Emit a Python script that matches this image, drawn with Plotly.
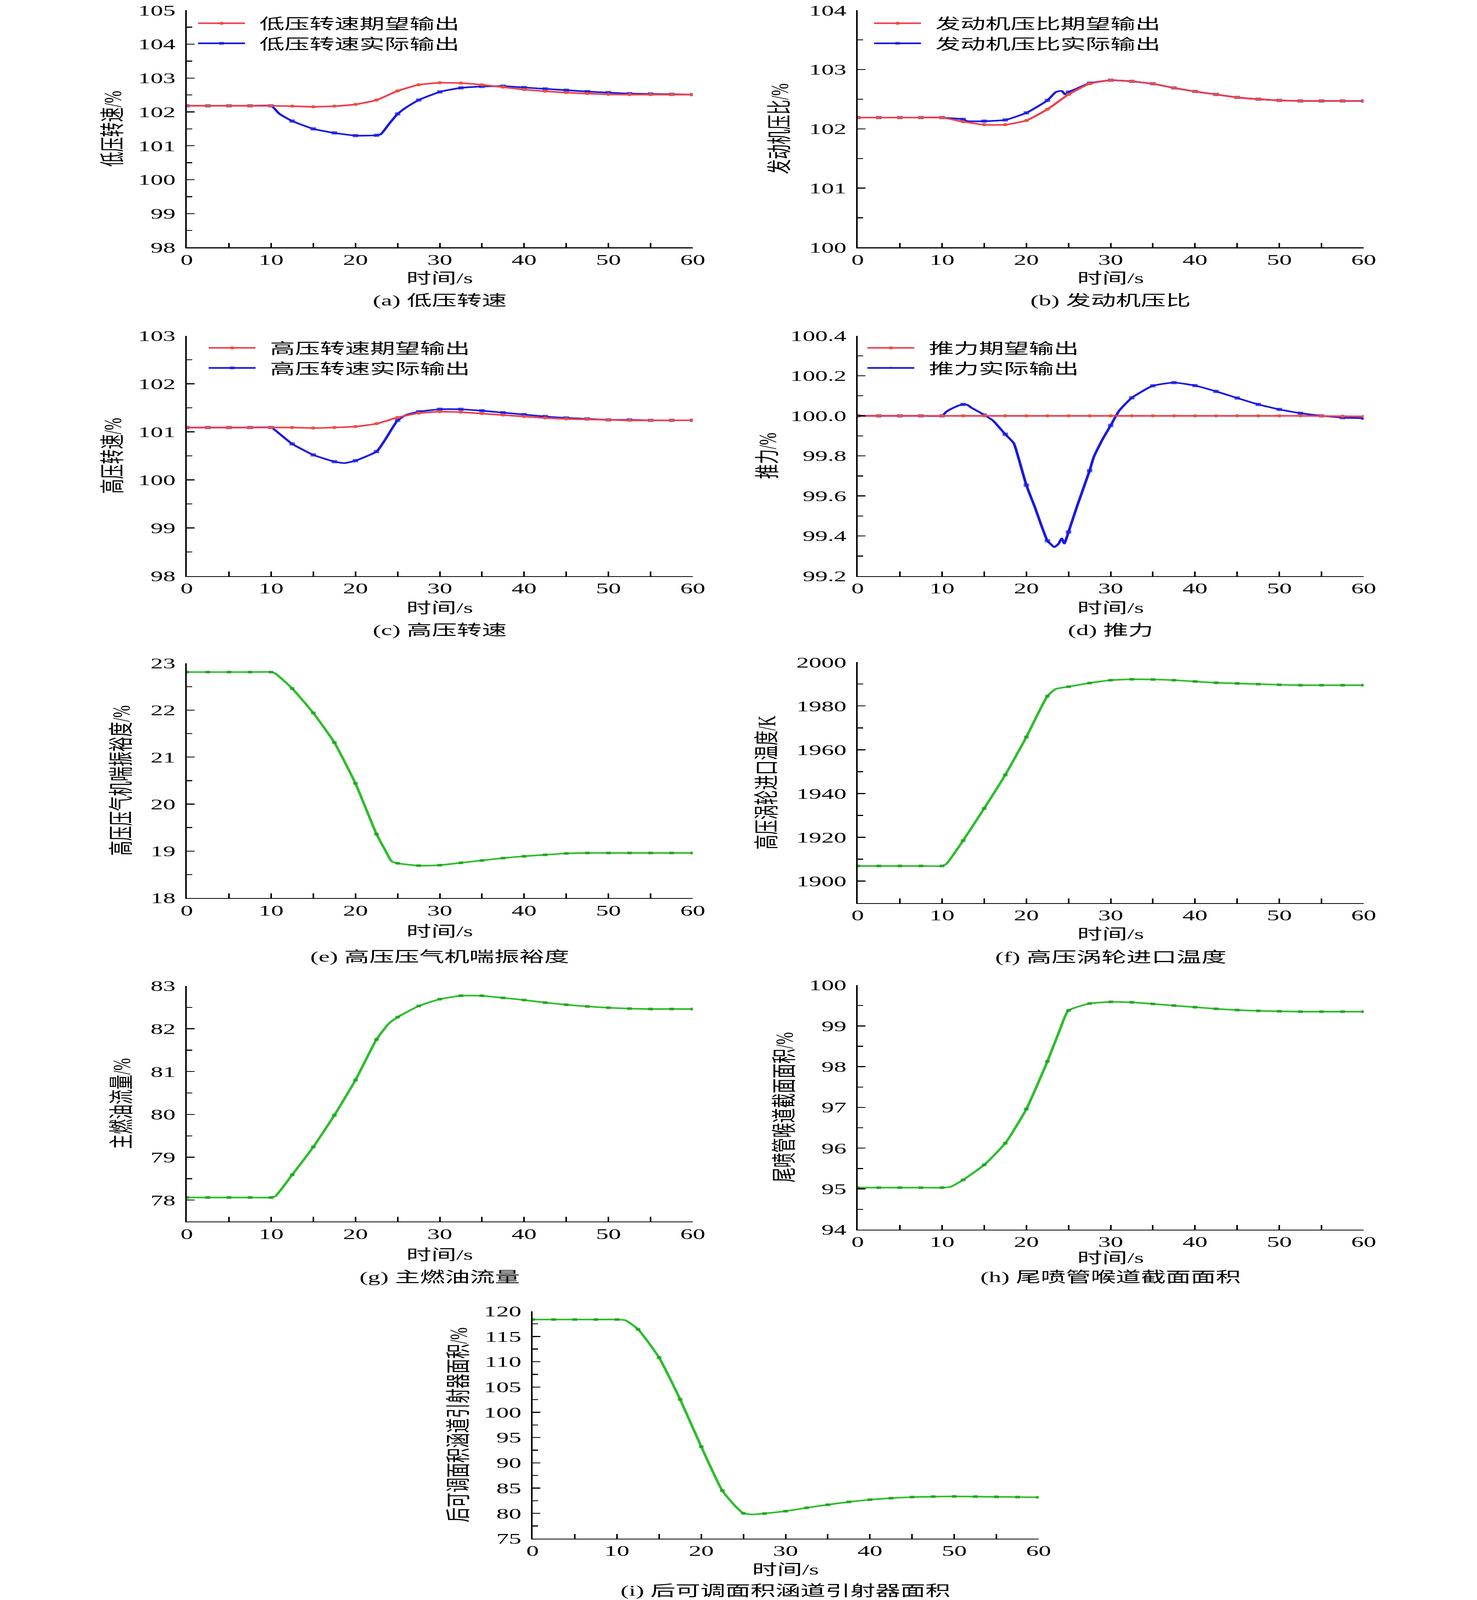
import plotly.graph_objects as go

# ---------------- data ----------------
T25 = [0, 2.5, 5, 7.5, 10, 12.5, 15, 17.5, 20, 22.5, 25, 27.5, 30, 32.5, 35, 37.5, 40, 42.5, 45, 47.5, 50, 52.5, 55, 57.5, 60]

# (a) low-pressure spool speed
a_des = [102.18, 102.18, 102.18, 102.18, 102.18, 102.17, 102.15, 102.17, 102.22, 102.35, 102.62, 102.80, 102.86,
         102.85, 102.80, 102.73, 102.66, 102.61, 102.57, 102.54, 102.52, 102.51, 102.51, 102.51, 102.51]
a_act_t = [0, 2.5, 5, 7.5, 10, 11, 12.5, 15, 17.5, 20, 22.5, 23, 24, 25, 26, 27.5, 30, 32.5, 35, 37.5, 40, 42.5, 45,
           47.5, 50, 52.5, 55, 57.5, 60]
a_act = [102.18, 102.18, 102.18, 102.18, 102.18, 101.94, 101.73, 101.50, 101.38, 101.30, 101.31, 101.34, 101.65,
         101.94, 102.13, 102.35, 102.59, 102.71, 102.75, 102.76, 102.72, 102.68, 102.64, 102.60, 102.57, 102.54,
         102.53, 102.52, 102.51]

# (b) engine pressure ratio
b_des = [102.19, 102.19, 102.19, 102.19, 102.19, 102.12, 102.07, 102.07, 102.14, 102.33, 102.58, 102.76, 102.82,
         102.80, 102.76, 102.69, 102.63, 102.58, 102.53, 102.50, 102.48, 102.47, 102.47, 102.47, 102.47]
b_act_t = [0, 2.5, 5, 7.5, 10, 12.5, 13, 15, 17.5, 20, 22.5, 23.5, 24.2, 24.6, 25, 26, 27.5, 30, 32.5, 35, 37.5, 40,
           42.5, 45, 47.5, 50, 52.5, 55, 57.5, 60]
b_act = [102.19, 102.19, 102.19, 102.19, 102.19, 102.16, 102.13, 102.13, 102.15, 102.27, 102.48, 102.62, 102.64,
         102.58, 102.62, 102.68, 102.77, 102.82, 102.80, 102.76, 102.69, 102.63, 102.58, 102.53, 102.50, 102.48,
         102.47, 102.47, 102.47, 102.47]

# (c) high-pressure spool speed
c_des = [101.09, 101.09, 101.09, 101.09, 101.09, 101.09, 101.08, 101.09, 101.11, 101.17, 101.30, 101.39, 101.42,
         101.41, 101.38, 101.35, 101.32, 101.29, 101.27, 101.26, 101.25, 101.24, 101.24, 101.24, 101.24]
c_act_t = [0, 2.5, 5, 7.5, 10, 11, 12.5, 15, 17.5, 18.7, 20, 22.5, 23.5, 25, 26, 27.5, 30, 32.5, 35, 37.5, 40, 42.5,
           45, 47.5, 50, 52.5, 55, 57.5, 60]
c_act = [101.09, 101.09, 101.09, 101.09, 101.09, 100.96, 100.75, 100.52, 100.38, 100.35, 100.40, 100.59, 100.83,
         101.24, 101.35, 101.42, 101.47, 101.47, 101.44, 101.40, 101.36, 101.32, 101.29, 101.27, 101.25, 101.25,
         101.24, 101.24, 101.24]

# (d) thrust
d_des = [100.0, 100.0, 100.0, 100.0, 100.0, 100.0, 100.0, 100.0, 100.0, 100.0, 100.0, 100.0, 100.0, 100.0, 100.0,
         100.0, 100.0, 100.0, 100.0, 100.0, 100.0, 100.0, 99.999, 99.998, 99.997]
d_act_t = [0, 2.5, 5, 7.5, 10, 10.5, 11, 12, 12.5, 13, 13.5, 14.5, 15, 16, 17.5, 18.5, 19, 20, 21, 22.5, 23, 23.3,
           23.8, 24.2, 24.5, 25, 26, 27.5, 28, 29, 30, 31, 32.5, 35, 37.5, 40, 42.5, 45, 47.5, 50, 52.5, 55, 57.5, 60]
d_act = [100.0, 100.0, 100.0, 100.0, 100.0, 100.02, 100.033, 100.052, 100.057, 100.055, 100.04, 100.017, 100.004,
         99.978, 99.908, 99.864, 99.80, 99.654, 99.545, 99.376, 99.355, 99.344, 99.36, 99.388, 99.362, 99.42,
         99.547, 99.726, 99.795, 99.88, 99.952, 100.025, 100.09, 100.15, 100.166, 100.151, 100.122, 100.089,
         100.057, 100.032, 100.013, 100.0, 99.991, 99.988]

# (e) HP compressor surge margin
e_t = [0, 2.5, 5, 7.5, 10, 10.5, 12.5, 15, 17.5, 20, 22.5, 23.5, 24.3, 25, 27.5, 30, 32.5, 35, 37.5, 40, 42.5, 45,
       47.5, 50, 52.5, 55, 57.5, 60]
e_val = [22.81, 22.81, 22.81, 22.81, 22.81, 22.78, 22.46, 21.94, 21.31, 20.44, 19.36, 19.03, 18.78, 18.74, 18.69,
         18.70, 18.75, 18.80, 18.85, 18.89, 18.92, 18.95, 18.96, 18.96, 18.96, 18.96, 18.96, 18.96]

# (f) HP turbine inlet temperature
f_t = [0, 2.5, 5, 7.5, 10, 10.5, 12.5, 15, 17.5, 20, 22.5, 23.5, 25, 27.5, 30, 32.5, 35, 37.5, 40, 42.5, 45, 47.5,
       50, 52.5, 55, 57.5, 60]
f_val = [1906.9, 1906.9, 1906.9, 1906.9, 1906.9, 1907.8, 1918.5, 1933.2, 1948.5, 1965.8, 1984.5, 1987.8, 1988.8,
         1990.5, 1991.8, 1992.2, 1992.1, 1991.8, 1991.2, 1990.6, 1990.3, 1990.0, 1989.7, 1989.5, 1989.5, 1989.5,
         1989.5]

# (g) main fuel flow
g_t = [0, 2.5, 5, 7.5, 10, 10.5, 12.5, 15, 17.5, 20, 22.5, 24, 25, 27.5, 30, 32.5, 35, 37.5, 40, 42.5, 45, 47.5,
       50, 52.5, 55, 57.5, 60]
g_val = [78.06, 78.06, 78.06, 78.06, 78.06, 78.09, 78.59, 79.24, 79.98, 80.80, 81.75, 82.13, 82.27, 82.53, 82.69,
         82.77, 82.77, 82.72, 82.67, 82.61, 82.56, 82.52, 82.49, 82.47, 82.46, 82.46, 82.46]

# (h) nozzle throat area
h_t = [0, 2.5, 5, 7.5, 10, 11, 12.5, 15, 17.5, 20, 22.5, 24, 25, 27.5, 30, 32.5, 35, 37.5, 40, 42.5, 45, 47.5, 50,
       52.5, 55, 57.5, 60]
h_val = [95.03, 95.03, 95.03, 95.03, 95.03, 95.05, 95.22, 95.59, 96.12, 96.96, 98.13, 98.92, 99.38, 99.55, 99.59,
         99.58, 99.54, 99.50, 99.46, 99.42, 99.39, 99.37, 99.36, 99.35, 99.35, 99.35, 99.35]

# (i) rear variable area bypass injector area
i_t = [0, 2.5, 5, 7.5, 10, 11, 12.5, 15, 17.5, 20, 22.5, 24, 25, 26, 27.5, 30, 32.5, 35, 37.5, 40, 42.5, 45, 47.5,
       50, 52.5, 55, 57.5, 60]
i_val = [118.35, 118.35, 118.35, 118.35, 118.35, 118.2, 116.43, 110.82, 102.55, 93.19, 84.49, 81.5, 80.01, 79.8,
         79.97, 80.44, 81.10, 81.71, 82.27, 82.71, 83.01, 83.23, 83.32, 83.36, 83.32, 83.27, 83.23, 83.19]

y_titles = ["低压转速/%", "发动机压比/%", "高压转速/%", "推力/%", "高压压气机喘振裕度/%",
            "高压涡轮进口温度/K", "主燃油流量/%", "尾喷管喉道截面面积/%", "后可调面积涵道引射器面积/%"]
captions = ["(a) 低压转速", "(b) 发动机压比", "(c) 高压转速", "(d) 推力", "(e) 高压压气机喘振裕度",
            "(f) 高压涡轮进口温度", "(g) 主燃油流量", "(h) 尾喷管喉道截面面积", "(i) 后可调面积涵道引射器面积"]
legend_names = [("低压转速期望输出", "低压转速实际输出"), ("发动机压比期望输出", "发动机压比实际输出"),
                ("高压转速期望输出", "高压转速实际输出"), ("推力期望输出", "推力实际输出")]
x_title = "时间/s"

# ---------------- style / layout ----------------
W, H = 3780, 6886
FONT = "Liberation Serif, Times New Roman, Noto Sans CJK SC"
FS = 64
RED_LINE = "#EE3E4E"
RED_MK = "#F0503A"
BLUE = "#1818E6"
GREEN = "#2DBE2D"
GREEN_MK = "#139A13"
GAP = "\u00a0\u00a0"


def px_x(v):
    return v / W


def px_y(v):
    return 1 - v / H


# panel boxes in pixels: (left, right, top, bottom)
boxes = [
    (478, 1773, 44, 1065), (2195, 3490, 44, 1065),
    (478, 1773, 1445, 2479), (2195, 3490, 1445, 2479),
    (478, 1773, 2854, 3865), (2195, 3490, 2850, 3886),
    (478, 1773, 4243, 5257), (2195, 3490, 4240, 5292),
    (1363, 2658, 5643, 6622),
]
yranges = [(98, 105), (100, 104), (98, 103), (99.2, 100.4), (18, 23), (1890, 2000), (77.5, 83), (94, 100), (75, 120)]
ydticks = [1, 1, 1, 0.2, 1, 20, 1, 1, 5]
yminor = [0.5, 0.5, 0.5, 0.1, 0.5, 10, 0.5, 0.5, 2.5]
ytick0 = [98, 100, 98, 99.2, 18, 1900, 78, 94, 75]
ytickfmt = ["d", "d", "d", ".1f", "d", "d", "d", "d", "d"]
ytitle_x = [289, 1996, 289, 1965, 311, 1962, 311, 2007, 1174]
xtitle_y = [1197, 1197, 2616, 2616, 4008, 4020, 5400, 5414, 6755]
caption_y = [1293, 1293, 2712, 2712, 4117, 4119, 5495, 5495, 6845]
legend_pos = [(502, 52), (2232, 52), (529, 1449), (2215, 1449)]

fig = go.Figure()
layout = dict(
    width=W, height=H, margin=dict(l=0, r=0, t=0, b=0, autoexpand=False),
    paper_bgcolor="white", plot_bgcolor="white",
    font=dict(family=FONT, size=FS, color="black"),
    showlegend=True,
)
annotations = []

LW_AX = 4
for k, (l, r, t, b) in enumerate(boxes):
    n = "" if k == 0 else str(k + 1)
    layout["xaxis" + n] = dict(
        domain=[px_x(l), px_x(r)], anchor="y" + n, range=[0, 60], dtick=10, tick0=0, automargin=False,
        showline=True, linecolor="black", linewidth=LW_AX, showgrid=False, zeroline=False,
        ticks="inside", ticklen=20, tickwidth=LW_AX, tickcolor="black", ticklabeloverflow="allow",
        minor=dict(dtick=5, tick0=0, ticks="inside", ticklen=20, tickwidth=LW_AX, tickcolor="black",
                   showgrid=False),
        tickfont=dict(family=FONT, size=FS), ticklabelstandoff=-6,
    )
    layout["yaxis" + n] = dict(
        domain=[px_y(b), px_y(t)], anchor="x" + n, range=list(yranges[k]), dtick=ydticks[k], tick0=ytick0[k],
        tickformat=ytickfmt[k], automargin=False, ticklabeloverflow="allow",
        showline=True, linecolor="black", linewidth=LW_AX, showgrid=False, zeroline=False,
        ticks="inside", ticklen=20, tickwidth=LW_AX, tickcolor="black",
        minor=dict(dtick=yminor[k], tick0=ytick0[k], ticks="inside", ticklen=14, tickwidth=LW_AX,
                   tickcolor="black", showgrid=False),
        tickfont=dict(family=FONT, size=FS), ticklabelstandoff=12,
    )
    cx = (l + r) / 2
    annotations.append(dict(text=y_titles[k], x=px_x(ytitle_x[k]), y=px_y((t + b) / 2), xref="paper",
                            yref="paper", showarrow=False, textangle=-90, xanchor="center", yanchor="middle",
                            font=dict(family=FONT, size=FS)))
    annotations.append(dict(text=x_title, x=px_x(cx), y=px_y(xtitle_y[k]), xref="paper", yref="paper",
                            showarrow=False, xanchor="center", yanchor="middle", font=dict(family=FONT, size=FS)))
    annotations.append(dict(text=captions[k], x=px_x(cx), y=px_y(caption_y[k]), xref="paper", yref="paper",
                            showarrow=False, xanchor="center", yanchor="middle", font=dict(family=FONT, size=FS)))


def marker_sizes(ts, size):
    return [size if abs(t / 2.5 - round(t / 2.5)) < 1e-6 else 0 for t in ts]


pairs = [(a_act_t, a_act, a_des), (b_act_t, b_act, b_des), (c_act_t, c_act, c_des), (d_act_t, d_act, d_des)]
for k, (tt, act, des) in enumerate(pairs):
    n = "" if k == 0 else str(k + 1)
    lg = "legend" + n
    fig.add_trace(go.Scatter(
        x=tt, y=act, mode="lines+markers", name=GAP + legend_names[k][1], legend=lg,
        xaxis="x" + n, yaxis="y" + n, line=dict(color=BLUE, width=7, shape="spline", smoothing=0.5),
        marker=dict(symbol="square", color=BLUE, size=marker_sizes(tt, 14), line=dict(width=0)),
    ))
    fig.add_trace(go.Scatter(
        x=T25, y=des, mode="lines+markers", name=GAP + legend_names[k][0], legend=lg,
        xaxis="x" + n, yaxis="y" + n, line=dict(color=RED_LINE, width=7, shape="spline", smoothing=0.5),
        marker=dict(symbol="circle", color=RED_MK, size=13, line=dict(width=0)),
    ))
    lx, ly = legend_pos[k]
    layout[lg] = dict(x=px_x(lx), y=px_y(ly), xanchor="left", yanchor="top", bgcolor="rgba(0,0,0,0)",
                      borderwidth=0, traceorder="reversed", itemwidth=120,
                      font=dict(family=FONT, size=FS), tracegroupgap=0)

singles = [(e_t, e_val), (f_t, f_val), (g_t, g_val), (h_t, h_val), (i_t, i_val)]
for j, (tt, vals) in enumerate(singles):
    n = str(j + 5)
    fig.add_trace(go.Scatter(
        x=tt, y=vals, mode="lines+markers", showlegend=False,
        xaxis="x" + n, yaxis="y" + n, line=dict(color=GREEN, width=7, shape="spline", smoothing=0.5),
        marker=dict(symbol="square", color=GREEN_MK, size=marker_sizes(tt, 12), line=dict(width=0)),
    ))

layout["annotations"] = annotations
fig.update_layout(**layout)

# If the browser window is smaller than the figure, fit the whole figure into the window.
post = ("var gd=document.getElementById('{plot_id}');"
        "document.documentElement.style.margin='0px';document.body.style.margin='0px';"
        "var sx=Math.min(1, window.innerWidth/%d), sy=Math.min(1, window.innerHeight/%d);"
        "if (sx<1 || sy<1) {"
        " document.documentElement.style.overflow='hidden'; document.body.style.overflow='hidden';"
        " gd.style.transformOrigin='0 0'; gd.style.transform='scale('+sx+','+sy+')';"
        "}") % (W, H)
fig.write_html("out.html", post_script=post, config={"displayModeBar": False})
